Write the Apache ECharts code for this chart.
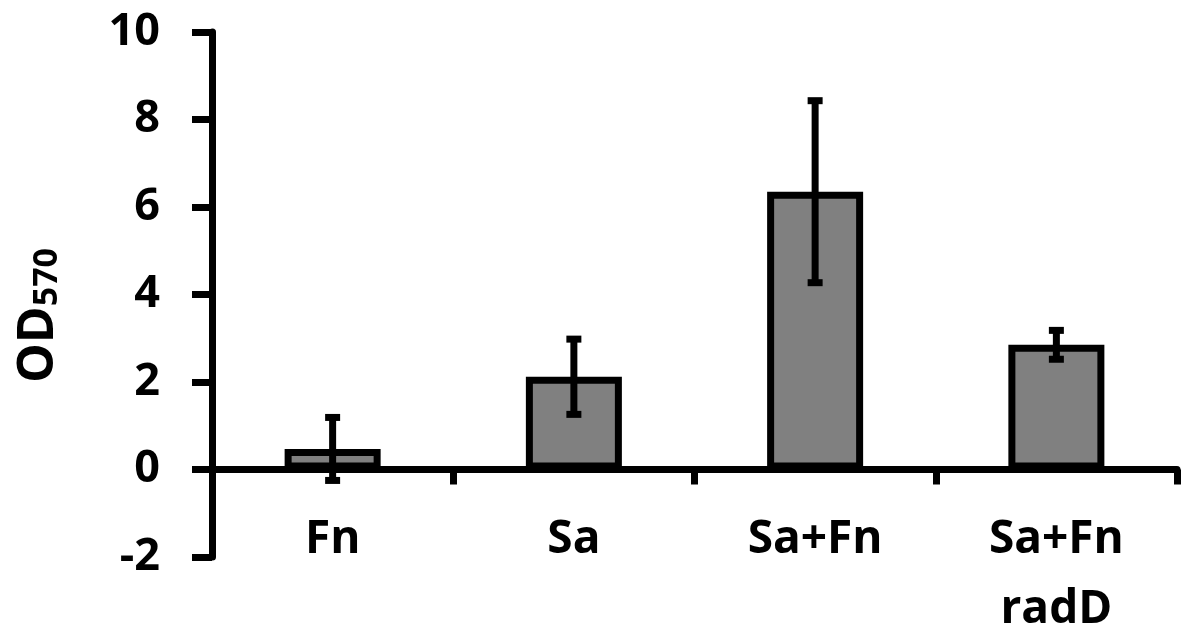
<!DOCTYPE html>
<html>
<head>
<meta charset="utf-8">
<script src="https://cdn.jsdelivr.net/npm/echarts@6/dist/echarts.min.js"></script>
<style>
html,body{margin:0;padding:0;background:#fff;}
#chart{width:1186px;height:635px;}
</style>
</head>
<body>
<div id="chart"></div>
<script>
const categories = ['Fn', 'Sa', 'Sa+Fn', 'Sa+Fn\nradD'];
const means = [0.47, 2.12, 6.35, 2.85];
const errors = [0.72, 0.86, 2.08, 0.33];
const yTicks = { min: -2, max: 10, interval: 2 };

const FONT = '"Open Sans", "Liberation Sans", sans-serif';
const errData = means.map((m, i) => [i, m - errors[i], m + errors[i]]);

const chart = echarts.init(document.getElementById('chart'), null, { renderer: 'canvas' });
chart.setOption({
  animation: false,
  backgroundColor: '#ffffff',
  grid: { left: 212, right: 9, top: 32, bottom: 78, containLabel: false, outerBoundsMode: 'none' },
  xAxis: {
    type: 'category',
    data: categories,
    axisLine: { onZero: true, lineStyle: { color: '#000', width: 7 } },
    axisTick: { show: true, length: 15, lineStyle: { color: '#000', width: 7 } },
    axisLabel: {
      color: '#000', fontSize: 46, fontWeight: 'bold', fontFamily: FONT,
      margin: -52, lineHeight: 70, interval: 0
    },
    splitLine: { show: false }
  },
  yAxis: {
    type: 'value',
    min: yTicks.min, max: yTicks.max, interval: yTicks.interval,
    name: '{a|OD}{b|570}',
    nameLocation: 'middle',
    nameRotate: 90,
    nameGap: 148,
    nameTextStyle: {
      padding: [0, 42, 0, 0],
      rich: {
        a: { fontSize: 50, fontWeight: 'bold', fontFamily: FONT, color: '#000', lineHeight: 50 },
        b: { fontSize: 34, fontWeight: 'bold', fontFamily: FONT, color: '#000', lineHeight: 22, verticalAlign: 'bottom' }
      }
    },
    axisLine: { show: true, lineStyle: { color: '#000', width: 7 } },
    axisTick: { show: true, length: 20, lineStyle: { color: '#000', width: 7 } },
    axisLabel: { color: '#000', fontSize: 45, fontWeight: 'bold', fontFamily: FONT, margin: 52 },
    splitLine: { show: false }
  },
  series: [
    {
      type: 'bar',
      data: means,
      barWidth: 96,
      itemStyle: { color: '#808080', borderColor: '#000', borderWidth: 7 },
      z: 2
    },
    {
      type: 'custom',
      data: errData,
      z: 5,
      renderItem: function (params, api) {
        const x = api.value(0);
        const pLo = api.coord([x, api.value(1)]);
        const pHi = api.coord([x, api.value(2)]);
        const cw = 7.5;
        const st = { stroke: '#000', lineWidth: 7 };
        return {
          type: 'group',
          children: [
            { type: 'line', shape: { x1: pHi[0], y1: pHi[1], x2: pLo[0], y2: pLo[1] }, style: st },
            { type: 'line', shape: { x1: pHi[0] - cw, y1: pHi[1], x2: pHi[0] + cw, y2: pHi[1] }, style: st },
            { type: 'line', shape: { x1: pLo[0] - cw, y1: pLo[1], x2: pLo[0] + cw, y2: pLo[1] }, style: st }
          ]
        };
      }
    }
  ]
});
</script>
</body>
</html>
